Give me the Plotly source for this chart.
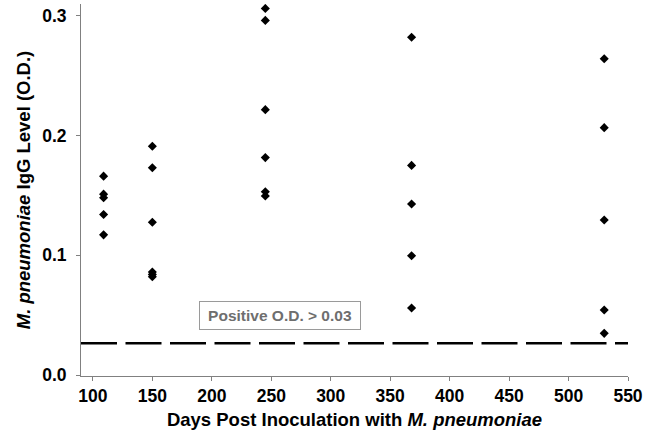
import plotly.graph_objects as go

# Data
days = [109, 150, 245, 368, 530]
igg_levels = [
    [0.166, 0.151, 0.148, 0.134, 0.117],
    [0.191, 0.173, 0.1275, 0.086, 0.084, 0.082],
    [0.306, 0.296, 0.2215, 0.1815, 0.153, 0.1495],
    [0.282, 0.175, 0.1428, 0.0996, 0.056],
    [0.264, 0.2065, 0.1294, 0.0543, 0.0348],
]
threshold = 0.0265
x_range = [90, 550]
x_ticks = [100, 150, 200, 250, 300, 350, 400, 450, 500, 550]
y_ticks = [0.0, 0.1, 0.2, 0.3]
y_tick_labels = ["0.0", "0.1", "0.2", "0.3"]

xs, ys = [], []
for d, vals in zip(days, igg_levels):
    for v in vals:
        xs.append(d)
        ys.append(v)

fig = go.Figure()
fig.add_trace(go.Scatter(
    x=x_range, y=[threshold, threshold], mode="lines",
    line=dict(color="black", width=2.6, dash="36px,8.5px"),
    hoverinfo="skip", showlegend=False,
))
fig.add_trace(go.Scatter(
    x=xs, y=ys, mode="markers",
    marker=dict(symbol="diamond", size=7, color="black"),
    showlegend=False,
))

font_family = "Liberation Sans, Arial, sans-serif"
fig.add_annotation(
    x=257, y=0.0497, xref="x", yref="y",
    text="<b>Positive O.D. &gt; 0.03</b>", showarrow=False,
    font=dict(family=font_family, size=15.5, color="#6e6e6e"),
    bordercolor="#9a9a9a", borderwidth=1, borderpad=0,
    width=160, height=27, bgcolor="white",
)

fig.update_layout(
    width=656, height=442,
    margin=dict(l=81, r=28, t=4, b=66),
    paper_bgcolor="white", plot_bgcolor="white",
    font=dict(family=font_family, color="black"),
    xaxis=dict(
        range=x_range, tickvals=x_ticks, showgrid=False, zeroline=False,
        showline=True, linecolor="#808080", linewidth=1,
        ticks="outside", ticklen=4, tickcolor="#808080",
        tickfont=dict(size=17.5, family=font_family, color="black", weight="bold"),
        title=dict(text="<b>Days Post Inoculation with <i>M. pneumoniae</i></b>",
                   font=dict(size=18.5, family=font_family, color="black"),
                   standoff=8),
    ),
    yaxis=dict(
        range=[-0.0008, 0.3097], tickvals=y_ticks, ticktext=y_tick_labels,
        showgrid=False, zeroline=False,
        showline=True, linecolor="#808080", linewidth=1,
        ticks="outside", ticklen=4, tickcolor="#808080",
        ticklabelstandoff=6,
        tickfont=dict(size=17.5, family=font_family, color="black", weight="bold"),
        title=dict(text="<b><i>M. pneumoniae</i> IgG Level (O.D.)</b>",
                   font=dict(size=18.5, family=font_family, color="black"),
                   standoff=6),
    ),
)

fig.write_html("out.html")
